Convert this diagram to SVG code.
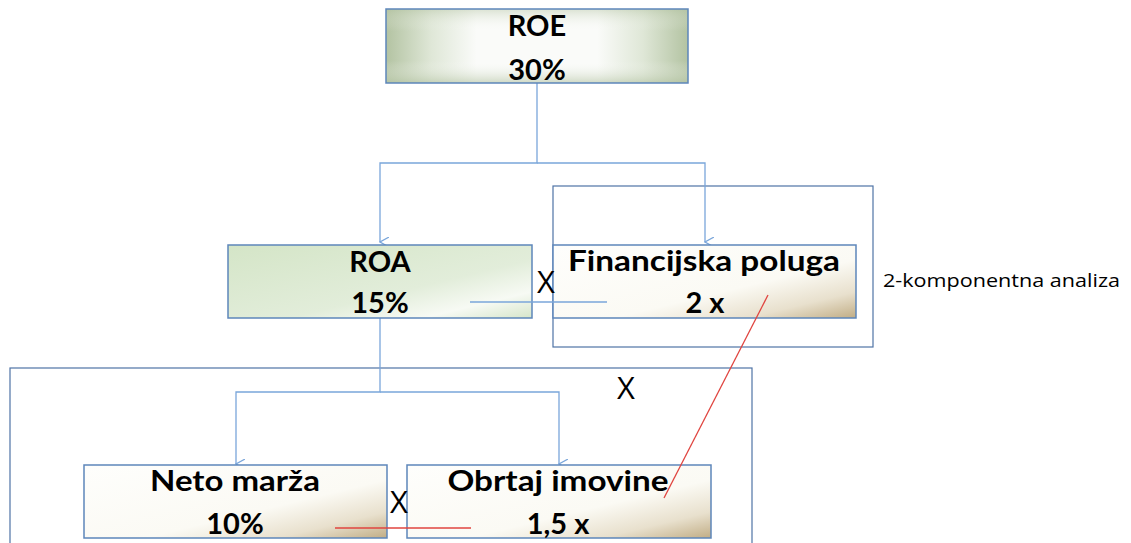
<svg xmlns="http://www.w3.org/2000/svg" width="1131" height="543" viewBox="0 0 1131 543">
<defs>
<linearGradient id="gRoe" x1="0" y1="0" x2="1" y2="0">
<stop offset="0" stop-color="#b3c3a2"/>
<stop offset="0.15" stop-color="#dfe7d7"/>
<stop offset="0.3" stop-color="#fafbf9"/>
<stop offset="0.7" stop-color="#fafbf9"/>
<stop offset="0.85" stop-color="#dfe7d7"/>
<stop offset="1" stop-color="#b3c3a2"/>
</linearGradient>
<linearGradient id="gRoeV" x1="0" y1="0" x2="0" y2="1">
<stop offset="0" stop-color="#b3c3a2" stop-opacity="0.45"/>
<stop offset="0.3" stop-color="#ffffff" stop-opacity="0"/>
<stop offset="0.7" stop-color="#ffffff" stop-opacity="0"/>
<stop offset="1" stop-color="#b3c3a2" stop-opacity="0.6"/>
</linearGradient>
<linearGradient id="gRoa" x1="0" y1="0" x2="1" y2="1">
<stop offset="0" stop-color="#d4e5c7"/>
<stop offset="0.6" stop-color="#e2edda"/>
<stop offset="0.82" stop-color="#f7faf4"/>
<stop offset="1" stop-color="#d5e5c9"/>
</linearGradient>
<linearGradient id="gTan" x1="0" y1="0" x2="1" y2="1">
<stop offset="0" stop-color="#fefefc"/>
<stop offset="0.6" stop-color="#fbfaf4"/>
<stop offset="0.82" stop-color="#e8e0cd"/>
<stop offset="1" stop-color="#c1ad85"/>
</linearGradient>
<marker id="arr" viewBox="0 0 10 10" refX="5" refY="9" markerWidth="10" markerHeight="10" markerUnits="userSpaceOnUse" orient="auto-start-reverse">
<path d="M0,0 L5,9 L10,0" fill="none" stroke="#7aa6da" stroke-width="1.2"/>
</marker>
<style>
.box{stroke:#5d86ba;stroke-width:1.5}
.frame{fill:none;stroke:#4f73a6;stroke-width:1.2}
.conn{fill:none;stroke:#7aa6da;stroke-width:1.3}
.t{font-family:Lato,"Open Sans","Liberation Sans",sans-serif;font-weight:bold;font-size:29px;fill:#000;text-anchor:middle}
.x{font-family:"Open Sans","Liberation Sans",sans-serif;font-size:31px;fill:#000;text-anchor:middle}
.lbl{font-family:"Open Sans","Liberation Sans",sans-serif;font-size:18px;fill:#000}
.red{stroke:#e0443f;stroke-width:1.3;fill:none}
</style>
</defs>
<rect width="1131" height="543" fill="#ffffff"/>

<g id="frame-2">
<rect class="frame" x="553" y="186" width="320" height="161"/>
<text class="lbl" x="883" y="287" textLength="237" lengthAdjust="spacingAndGlyphs">2-komponentna analiza</text>
</g>
<g id="frame-3">
<rect class="frame" x="10" y="368" width="742" height="190"/>
</g>

<g id="connectors">
<path class="conn" d="M537,83 V163 H380 V242" marker-end="url(#arr)"/>
<path class="conn" d="M537,163 H705 V242" marker-end="url(#arr)"/>
<path class="conn" d="M380,318 V392 H236 V464" marker-end="url(#arr)"/>
<path class="conn" d="M380,392 H559 V464" marker-end="url(#arr)"/>
</g>

<g id="node-roe">
<rect x="386" y="9" width="302" height="74" fill="url(#gRoe)"/>
<rect x="386" y="9" width="302" height="74" fill="url(#gRoeV)"/>
<rect x="386" y="9" width="302" height="74" fill="none" stroke="#5d86ba" stroke-width="1.5"/>
<text class="t" x="537" y="36">ROE</text>
<text class="t" x="537" y="80">30%</text>
</g>

<g id="node-roa">
<rect class="box" x="228" y="245" width="304" height="73" fill="url(#gRoa)"/>
<text class="t" x="380" y="272">ROA</text>
<text class="t" x="380" y="313">15%</text>
</g>

<g id="node-fp">
<rect class="box" x="553" y="245" width="303" height="73" fill="url(#gTan)"/>
<text class="t" x="704" y="271" textLength="272" lengthAdjust="spacingAndGlyphs">Financijska poluga</text>
<text class="t" x="705" y="313">2 x</text>
</g>

<g id="node-neto">
<rect class="box" x="84" y="465" width="303" height="73" fill="url(#gTan)"/>
<text class="t" x="235" y="491" textLength="170" lengthAdjust="spacingAndGlyphs">Neto marža</text>
<text class="t" x="235" y="534">10%</text>
</g>

<g id="node-obrtaj">
<rect class="box" x="407" y="465" width="304" height="73" fill="url(#gTan)"/>
<text class="t" x="558" y="491" textLength="221" lengthAdjust="spacingAndGlyphs">Obrtaj imovine</text>
<text class="t" x="558" y="534">1,5 x</text>
</g>

<g id="annotations">
<line x1="470" y1="302" x2="607" y2="302" stroke="#7aa6da" stroke-width="1.3"/>
<text class="x" x="546" y="293">X</text>
<text class="x" x="626" y="399">X</text>
<text class="x" x="399" y="513">X</text>
<line class="red" x1="768" y1="295" x2="664" y2="498"/>
<line class="red" x1="335" y1="528" x2="471" y2="528"/>
</g>
</svg>
